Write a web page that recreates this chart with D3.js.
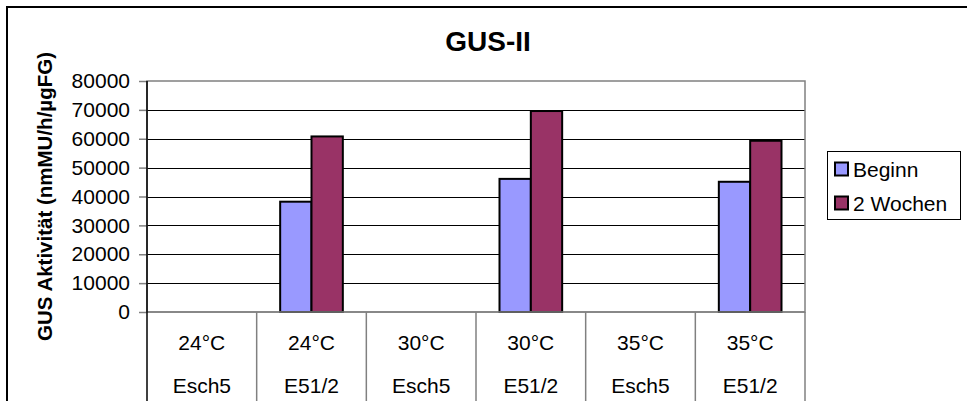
<!DOCTYPE html>
<html>
<head>
<meta charset="utf-8">
<script src="https://cdn.jsdelivr.net/npm/d3@7"></script>
<style>
  html, body { margin: 0; padding: 0; background: #fff; }
  svg { display: block; font-family: "Liberation Sans", Arial, sans-serif; }
</style>
</head>
<body>
<svg id="chart" width="967" height="401"></svg>
<script>
// GUS activity per temperature / line
const temps = ["24°C", "24°C", "30°C", "30°C", "35°C", "35°C"];
const lines = ["Esch5", "E51/2", "Esch5", "E51/2", "Esch5", "E51/2"];
const seriesNames = ["Beginn", "2 Wochen"];
const beginn = [0, 38200, 0, 46100, 0, 45100];
const zweiWochen = [0, 60800, 0, 69600, 0, 59300];
const yTicks = [0, 10000, 20000, 30000, 40000, 50000, 60000, 70000, 80000];
const colors = ["#9999FF", "#993366"];

const svg = d3.select("#chart");
const W = 967, H = 401;
const FS = "21px";

// outer chart border (runs off the bottom and right)
svg.append("rect")
  .attr("x", 7).attr("y", 7)
  .attr("width", W + 10).attr("height", H + 10)
  .attr("fill", "#fff").attr("stroke", "#000").attr("stroke-width", 2);

const plot = { left: 147, right: 805, top: 81, bottom: 312 };
const idx = d3.range(temps.length);

const x = d3.scaleBand().domain(idx).range([plot.left, plot.right]).paddingInner(0).paddingOuter(0);
const xs = d3.scaleBand().domain(seriesNames).range([0, x.bandwidth()]).paddingInner(0).paddingOuter(0.75);
const y = d3.scaleLinear().domain([0, 80000]).range([plot.bottom, plot.top]);

// horizontal gridlines
svg.append("g").selectAll("line").data(yTicks.filter(t => t > 0 && t < 80000)).join("line")
  .attr("x1", plot.left).attr("x2", plot.right)
  .attr("y1", d => Math.round(y(d)) + 0.5).attr("y2", d => Math.round(y(d)) + 0.5)
  .attr("stroke", "#000").attr("stroke-width", 1);

// plot area frame
svg.append("rect")
  .attr("x", plot.left).attr("y", plot.top)
  .attr("width", plot.right - plot.left).attr("height", plot.bottom - plot.top)
  .attr("fill", "none").attr("stroke", "#808080").attr("stroke-width", 1.5);

// bars
const data = idx.map(i => ({ i, vals: [beginn[i], zweiWochen[i]] }));
const groups = svg.append("g").selectAll("g").data(data).join("g")
  .attr("transform", d => `translate(${x(d.i)},0)`);
groups.selectAll("rect").data(d => d.vals.map((v, k) => ({ v, k }))).join("rect")
  .filter(d => d.v > 0)
  .attr("x", d => xs(seriesNames[d.k]))
  .attr("y", d => y(d.v))
  .attr("width", xs.bandwidth())
  .attr("height", d => y(0) - y(d.v))
  .attr("fill", d => colors[d.k])
  .attr("stroke", "#000").attr("stroke-width", 2);

// category dividers below the axis
svg.append("g").selectAll("line").data(idx.slice(1).concat([idx.length])).join("line")
  .attr("x1", d => plot.left + d * x.step()).attr("x2", d => plot.left + d * x.step())
  .attr("y1", plot.bottom).attr("y2", H + 5)
  .attr("stroke", "#808080").attr("stroke-width", 1.5);

// category axis line
svg.append("line")
  .attr("x1", plot.left).attr("x2", plot.right)
  .attr("y1", plot.bottom).attr("y2", plot.bottom)
  .attr("stroke", "#808080").attr("stroke-width", 1.5);

// value axis
const yAxis = d3.axisLeft(y).tickValues(yTicks).tickSize(8).tickPadding(9).tickFormat(d3.format("d"));
const ya = svg.append("g").attr("transform", `translate(${plot.left},0)`).call(yAxis);
ya.attr("font-size", FS).attr("font-family", "'Liberation Sans', Arial, sans-serif");
ya.select(".domain").remove();
ya.selectAll(".tick line").attr("stroke", "#808080").attr("stroke-width", 1.5);
ya.selectAll(".tick text").attr("fill", "#000");
svg.append("line")
  .attr("x1", plot.left).attr("x2", plot.left)
  .attr("y1", plot.top).attr("y2", H + 5)
  .attr("stroke", "#000").attr("stroke-width", 1.5);

// category labels (two rows)
const cat = svg.append("g").attr("font-size", FS).attr("text-anchor", "middle");
cat.selectAll("text.t").data(idx).join("text").attr("class", "t")
  .attr("x", d => x(d) + x.bandwidth() / 2).attr("y", 350).text(d => temps[d]);
cat.selectAll("text.l").data(idx).join("text").attr("class", "l")
  .attr("x", d => x(d) + x.bandwidth() / 2).attr("y", 393).text(d => lines[d]);

// title
svg.append("text").attr("x", 488).attr("y", 51).attr("text-anchor", "middle")
  .attr("font-size", "28px").attr("font-weight", "bold").text("GUS-II");

// y-axis title
svg.append("text")
  .attr("transform", `translate(52,${(plot.top + plot.bottom) / 2}) rotate(-90)`)
  .attr("text-anchor", "middle")
  .attr("font-size", "20.5px").attr("font-weight", "bold")
  .text("GUS Aktivität (nmMU/h/µgFG)");

// legend
const leg = svg.append("g");
leg.append("rect").attr("x", 827.5).attr("y", 151.5).attr("width", 133).attr("height", 68)
  .attr("fill", "#fff").attr("stroke", "#000").attr("stroke-width", 1);
const legY = [169, 203];
seriesNames.forEach((s, k) => {
  leg.append("rect").attr("x", 835).attr("y", legY[k] - 6.5).attr("width", 13).attr("height", 13)
    .attr("fill", colors[k]).attr("stroke", "#000").attr("stroke-width", 2);
  leg.append("text").attr("x", 853).attr("y", legY[k] + 7.5)
    .attr("font-size", FS).text(s);
});
</script>
</body>
</html>
